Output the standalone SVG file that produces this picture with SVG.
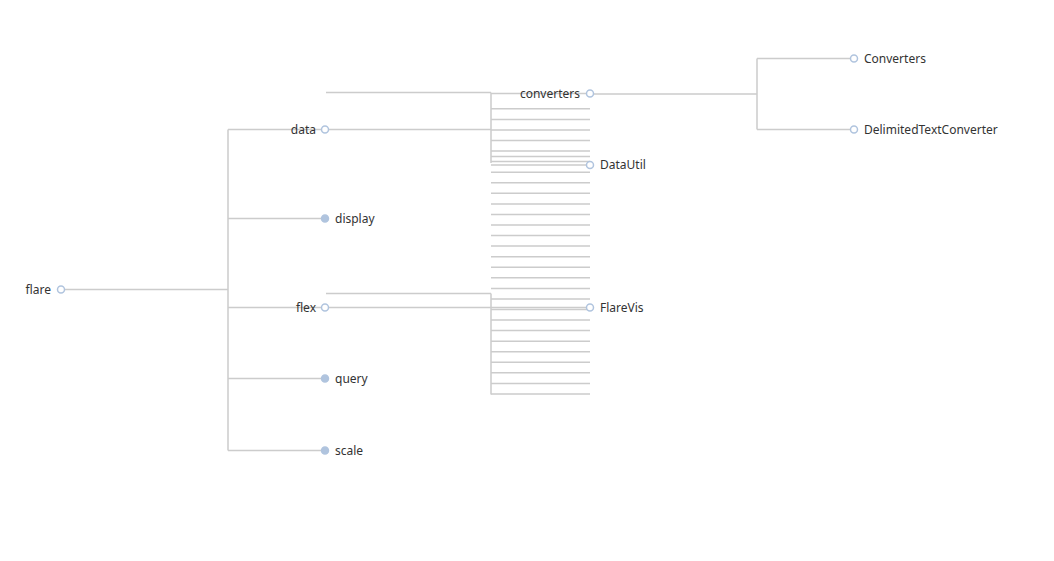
<svg xmlns="http://www.w3.org/2000/svg" width="1054" height="561" viewBox="0 0 1054 561">
<style>
.e{fill:none;stroke:#ccc;stroke-width:1.5}
.n{fill:#fff;stroke:#b0c4de;stroke-width:1.5}
.f{fill:#b0c4de;stroke:#b0c4de;stroke-width:1.5}
text{font-family:"Noto Sans","Liberation Sans",sans-serif;font-size:12px;fill:#333}
.l{text-anchor:end}
</style>
<rect width="1054" height="561" fill="#fff"/>
<g id="connectors">
<path class="e" d="M61 289.5H228M228 129.5V450.5M228 129.5H325M228 218.5H325M228 307.5H325M228 378.5H325M228 450.5H325"/>
<path class="e" d="M326 92.5H491M325 129.5H491M491 92.5V163M491 93.5H590"/>
<path class="e" d="M491 108.8H590M491 119.4H590M491 130H590M491 140.5H590M491 151.1H590M491 156.5H590M491 161.6H590M491 165H590M491 172.2H590M491 182.8H590M491 193.3H590M491 203.9H590M491 214.4H590M491 225H590M491 235.6H590M491 246.1H590M491 256.7H590M491 267.2H590M491 277.8H590M491 288.4H590M491 298.9H590M491 309.5H590M491 320H590M491 330.6H590M491 341.2H590M491 351.7H590M491 362.3H590M491 372.8H590M491 383.4H590M491 394H590"/>
<path class="e" d="M326 293.5H491M325 307.5H590M491 293.5V394.5"/>
<path class="e" d="M590 94H757M757 58.5V129.5M757 58.5H854M757 129.5H854"/>
</g>
<g id="node-flare"><circle class="n" cx="61" cy="289.5" r="3.5"/><text class="l" x="51" y="293.5">flare</text></g>
<g id="node-data"><circle class="n" cx="325" cy="129.5" r="3.5"/><text class="l" x="316" y="133.5">data</text></g>
<g id="node-display"><circle class="f" cx="325" cy="218.5" r="3.5"/><text x="335" y="222.5">display</text></g>
<g id="node-flex"><circle class="n" cx="325" cy="307.5" r="3.5"/><text class="l" x="316" y="311.5">flex</text></g>
<g id="node-query"><circle class="f" cx="325" cy="378.5" r="3.5"/><text x="335" y="382.5">query</text></g>
<g id="node-scale"><circle class="f" cx="325" cy="450.5" r="3.5"/><text x="335" y="454.5">scale</text></g>
<g id="node-converters"><circle class="n" cx="590" cy="93.5" r="3.5"/><text class="l" x="580" y="97.5">converters</text></g>
<g id="node-DataUtil"><circle class="n" cx="590" cy="165" r="3.5"/><text x="600" y="169">DataUtil</text></g>
<g id="node-FlareVis"><circle class="n" cx="590" cy="307.5" r="3.5"/><text x="600" y="311.5">FlareVis</text></g>
<g id="node-Converters"><circle class="n" cx="854" cy="58.5" r="3.5"/><text x="864" y="62.5">Converters</text></g>
<g id="node-DelimitedTextConverter"><circle class="n" cx="854" cy="129.5" r="3.5"/><text x="864" y="133.5">DelimitedTextConverter</text></g>
</svg>
